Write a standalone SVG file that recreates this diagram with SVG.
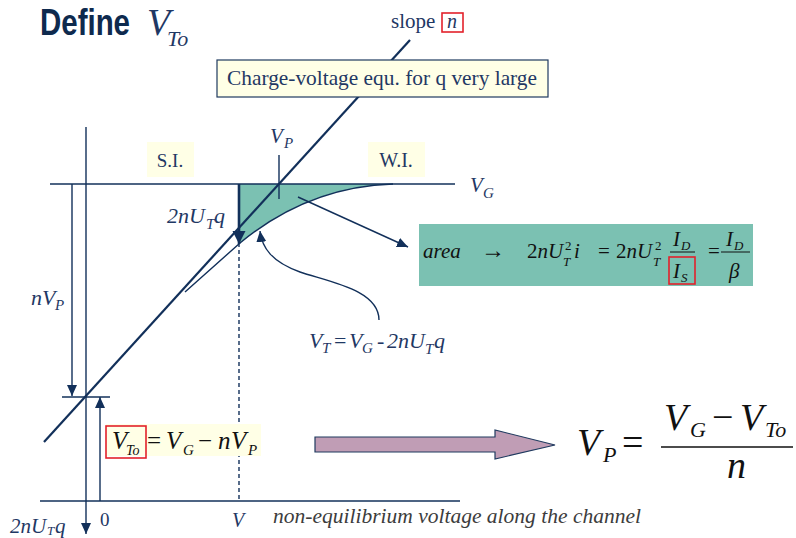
<svg xmlns="http://www.w3.org/2000/svg" width="796" height="538" viewBox="0 0 796 538">
<style>
.t{font-family:"Liberation Serif","Times New Roman",serif;fill:#1F3864}
.i{font-style:italic}
.ln{stroke:#12305A;stroke-width:1.4;fill:none}
.red{fill:none;stroke:#E3212B;stroke-width:1.6}
</style>
<defs>
<marker id="ah" markerUnits="userSpaceOnUse" markerWidth="12" markerHeight="12" refX="11" refY="6" orient="auto"><path d="M0,1 L11,6 L0,11 z" fill="#12305A"/></marker>
<marker id="ahb" markerUnits="userSpaceOnUse" markerWidth="14" markerHeight="14" refX="13" refY="7" orient="auto"><path d="M0,0.5 L13,7 L0,13.5 z" fill="#12305A"/></marker>
</defs>
<rect width="796" height="538" fill="#fff"/>

<g id="title">
<text x="40" y="35" font-family="'Liberation Sans',Arial,sans-serif" font-weight="bold" font-size="36" fill="#0E2A4E" textLength="90" lengthAdjust="spacingAndGlyphs">Define</text>
<text class="t i" x="147" y="35" font-size="38" fill="#0E2A4E">V</text>
<text class="t i" x="167" y="46" font-size="22">To</text>
</g>

<g id="area-fill">
<path d="M239,184 L393,184 C330,186 280,210 240,243 Z" fill="#7BC1B2"/>
</g>

<g id="connectors">
<line class="ln" x1="50" y1="184" x2="455" y2="184"/>
<line class="ln" x1="40" y1="501" x2="460" y2="501"/>
<line class="ln" x1="86" y1="127" x2="86" y2="534" marker-end="url(#ah)"/>
<line class="ln" x1="72" y1="184" x2="72" y2="396" marker-end="url(#ah)"/>
<line class="ln" x1="62" y1="397" x2="110" y2="397"/>
<line class="ln" x1="100" y1="501" x2="100" y2="397" marker-end="url(#ah)"/>
<line class="ln" x1="239" y1="243" x2="239" y2="501" stroke-dasharray="4,3"/>
<line class="ln" x1="279" y1="155" x2="279" y2="199"/>
<line x1="410" y1="40" x2="44" y2="442" stroke="#12305A" stroke-width="2.2"/>
<path class="ln" d="M185,292 L240,243 C280,210 330,186 393,184"/>
<line x1="239" y1="184" x2="239" y2="244" stroke="#12305A" stroke-width="2.6" marker-end="url(#ahb)"/>
<line class="ln" x1="298" y1="197" x2="408" y2="247" marker-end="url(#ah)"/>
<path class="ln" d="M379,320 C379,290 330,282 300,272 C272,262 262,248 260,231" marker-end="url(#ah)"/>
</g>

<g id="slope">
<text class="t" x="391" y="28" font-size="21">slope</text>
<rect class="red" x="442" y="13" width="21" height="19"/>
<text class="t i" x="447" y="28" font-size="20">n</text>
</g>

<g id="charge-box">
<rect x="217" y="60" width="331" height="37" fill="#FFFFE6" stroke="#1F3A5F" stroke-width="1.2"/>
<text class="t" x="227" y="85" font-size="21" textLength="310" lengthAdjust="spacingAndGlyphs">Charge-voltage equ. for q very large</text>
</g>

<g id="si">
<rect x="147" y="142" width="47" height="35" fill="#FFFFE6"/>
<text class="t" x="170" y="167" font-size="19" text-anchor="middle">S.I.</text>
</g>
<g id="wi">
<rect x="368" y="142" width="57" height="35" fill="#FFFFE6"/>
<text class="t" x="396" y="167" font-size="20" text-anchor="middle">W.I.</text>
</g>

<g id="labels">
<text class="t i" x="270" y="143" font-size="21">V</text>
<text class="t i" x="284" y="148" font-size="15">P</text>
<text class="t i" x="470" y="192" font-size="21">V</text>
<text class="t i" x="483" y="198" font-size="15">G</text>
<text class="t i" x="167" y="223" font-size="22">2nU</text>
<text class="t i" x="206" y="229" font-size="15">T</text>
<text class="t i" x="214" y="223" font-size="22">q</text>
<text class="t i" x="31" y="305" font-size="22">nV</text>
<text class="t i" x="55" y="310" font-size="15">P</text>
<text class="t i" x="309" y="348" font-size="22">V</text>
<text class="t i" x="322" y="353" font-size="15">T</text>
<text class="t" x="334" y="348" font-size="22">=</text>
<text class="t i" x="349" y="348" font-size="22">V</text>
<text class="t i" x="362" y="353" font-size="15">G</text>
<text class="t" x="377" y="348" font-size="22">-</text>
<text class="t i" x="387" y="348" font-size="22">2nU</text>
<text class="t i" x="425" y="354" font-size="15">T</text>
<text class="t i" x="434" y="348" font-size="22">q</text>
<text class="t" x="100" y="526" font-size="19">0</text>
<text class="t i" x="232" y="527" font-size="20">V</text>
<text class="t i" x="273" y="523" font-size="20" style="fill:#3C3C3C" textLength="368" lengthAdjust="spacingAndGlyphs">non-equilibrium voltage along the channel</text>
<text class="t i" x="10" y="533" font-size="21">2nU</text>
<text class="t i" x="47" y="535" font-size="13">T</text>
<text class="t i" x="55" y="533" font-size="21">q</text>
</g>

<g id="area-box">
<rect x="419" y="224" width="334" height="62" fill="#7BC1B2"/>
<g fill="#111" font-family="'Liberation Serif','Times New Roman',serif" font-size="21">
<text x="423" y="258" font-style="italic">area</text>
<text x="481" y="258" font-size="24">→</text>
<text x="527" y="258">2<tspan font-style="italic">nU</tspan></text>
<text x="565" y="250" font-size="13">2</text>
<text x="563" y="266" font-size="13" font-style="italic">T</text>
<text x="574" y="258" font-style="italic">i</text>
<text x="598" y="258">=</text>
<text x="616" y="258">2<tspan font-style="italic">nU</tspan></text>
<text x="655" y="250" font-size="13">2</text>
<text x="653" y="266" font-size="13" font-style="italic">T</text>
<text x="673" y="246" font-style="italic">I</text>
<text x="681" y="250" font-size="13" font-style="italic">D</text>
<line x1="670" y1="252" x2="695" y2="252" stroke="#111" stroke-width="1"/>
<text x="673" y="278" font-style="italic">I</text>
<text x="681" y="282" font-size="13" font-style="italic">S</text>
<text x="708" y="258">=</text>
<text x="726" y="246" font-style="italic">I</text>
<text x="734" y="250" font-size="13" font-style="italic">D</text>
<line x1="721" y1="252" x2="750" y2="252" stroke="#111" stroke-width="1"/>
<text x="729" y="278" font-style="italic">β</text>
</g>
<rect class="red" x="669" y="257" width="26" height="27"/>
</g>

<g id="vto-eq">
<rect x="106" y="424" width="155" height="32" fill="#FFFFE6"/>
<rect class="red" x="106" y="426" width="40" height="32"/>
<g fill="#111" font-family="'Liberation Serif','Times New Roman',serif" font-size="25">
<text x="112" y="449" font-style="italic">V</text>
<text x="126" y="455" font-size="14" font-style="italic">To</text>
<text x="147" y="449">=</text>
<text x="166" y="449" font-style="italic">V</text>
<text x="183" y="455" font-size="15" font-style="italic">G</text>
<text x="198" y="449">−</text>
<text x="218" y="449" font-style="italic">n</text>
<text x="231" y="449" font-style="italic">V</text>
<text x="248" y="455" font-size="15" font-style="italic">P</text>
</g>
</g>

<g id="big-arrow">
<path d="M315,437 L495,437 L495,430 L555,445 L495,459 L495,452 L315,452 Z" fill="#C09DB5" stroke="#1F3A5F" stroke-width="1.2"/>
</g>

<g id="vp-eq">
<g fill="#111" font-family="'Liberation Serif','Times New Roman',serif" font-size="38">
<text x="577" y="455" font-style="italic">V</text>
<text x="603" y="462" font-size="22" font-style="italic">P</text>
<text x="622" y="455">=</text>
<text x="664" y="430" font-style="italic">V</text>
<text x="690" y="437" font-size="22" font-style="italic">G</text>
<text x="712" y="430">−</text>
<text x="740" y="430" font-style="italic">V</text>
<text x="765" y="437" font-size="22" font-style="italic">To</text>
<line x1="661" y1="447" x2="793" y2="447" stroke="#111" stroke-width="1.5"/>
<text x="727" y="478" font-style="italic">n</text>
</g>
</g>
</svg>
